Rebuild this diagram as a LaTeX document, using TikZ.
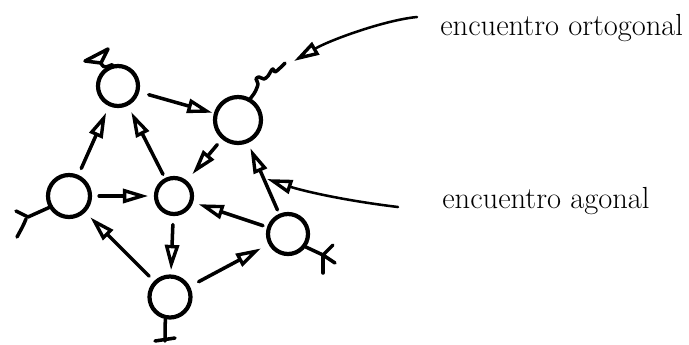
\documentclass[tikz,border=0pt]{standalone}
\usetikzlibrary{arrows.meta}
\begin{document}
\begin{tikzpicture}[x=0.025cm,y=-0.025cm]
\def\lw{2.5pt}
\tikzset{
  nodo/.style={circle,draw,line width=3pt,inner sep=0pt},
  flecha/.style={line width=\lw,line cap=round,-{Triangle[open,length=18pt,width=10pt,line width=2.4pt]}},
  trazo/.style={line width=\lw,line cap=round,line join=round},
  rotulo/.style={anchor=base west,inner sep=0pt,font=\fontsize{21.7}{24}\selectfont}
}
\useasboundingbox (0,0) rectangle (689,344);

% the six nodes: name / x / y / diameter
\foreach \n/\x/\y/\d in {a/118/86/40, b/238/120/46, c/69/196/42,
                         d/174/196/36, e/288/234/40, f/170/297/41}
  \node[nodo,minimum size=\d*0.025cm] (\n) at (\x,\y) {};

% arrows between nodes: from / to / gap at start / gap at end
\foreach \s/\t/\g/\h in {a/b/7pt/1pt, c/a/5pt/5pt, d/a/3pt/5pt, b/d/5pt/6pt,
                         c/d/5pt/4pt, d/f/6pt/3pt, f/c/5pt/5pt, f/e/7pt/6pt,
                         e/d/3pt/4pt, e/b/3pt/4pt}
  \draw[flecha,shorten <=\g,shorten >=\h] (\s) -- (\t);

% little stubs on the outer nodes
\draw[trazo] (85,61) -- (108,49) -- (101,63) -- cycle;
\draw[trazo] (101,63) .. controls (104,70) and (108,66) .. (a.105);
\draw[trazo] (c.210) -- (28,217) -- (16,211);
\draw[trazo] (26,219) .. controls (23,226) .. (17,237);
\draw[trazo] (e.-36) -- (323,255);
\draw[trazo] (333,245) -- (323,255) -- (335,263);
\draw[trazo] (323,255) -- (323,273);
\draw[trazo] (f.-102) -- (165,341);
\draw[trazo] (155,341) -- (175,338);

% wiggly tail on b
\draw[trazo] plot[smooth] coordinates {(b.60) (255,92) (258,84) (256,79) (259,77)
  (264,79) (268,76) (271,71) (273,69) (275,72) (280,68) (285,63)};

% incoming encounters
\coordinate (orto-in) at (417,17);
\coordinate (orto-tip) at (294,61);
\draw[flecha,line width=1.8pt] (orto-in) .. controls (385,20) and (330,40) .. (orto-tip);
\coordinate (ag-in) at (398,207);
\coordinate (ag-tip) at (267,179);
\draw[flecha,line width=1.8pt] (ag-in) .. controls (340,200) and (300,190) .. (ag-tip);

\node[rotulo] (ortogonal) at (440,35) {encuentro ortogonal};
\node[rotulo] (agonal) at (442,208) {encuentro agonal};
\end{tikzpicture}
\end{document}
